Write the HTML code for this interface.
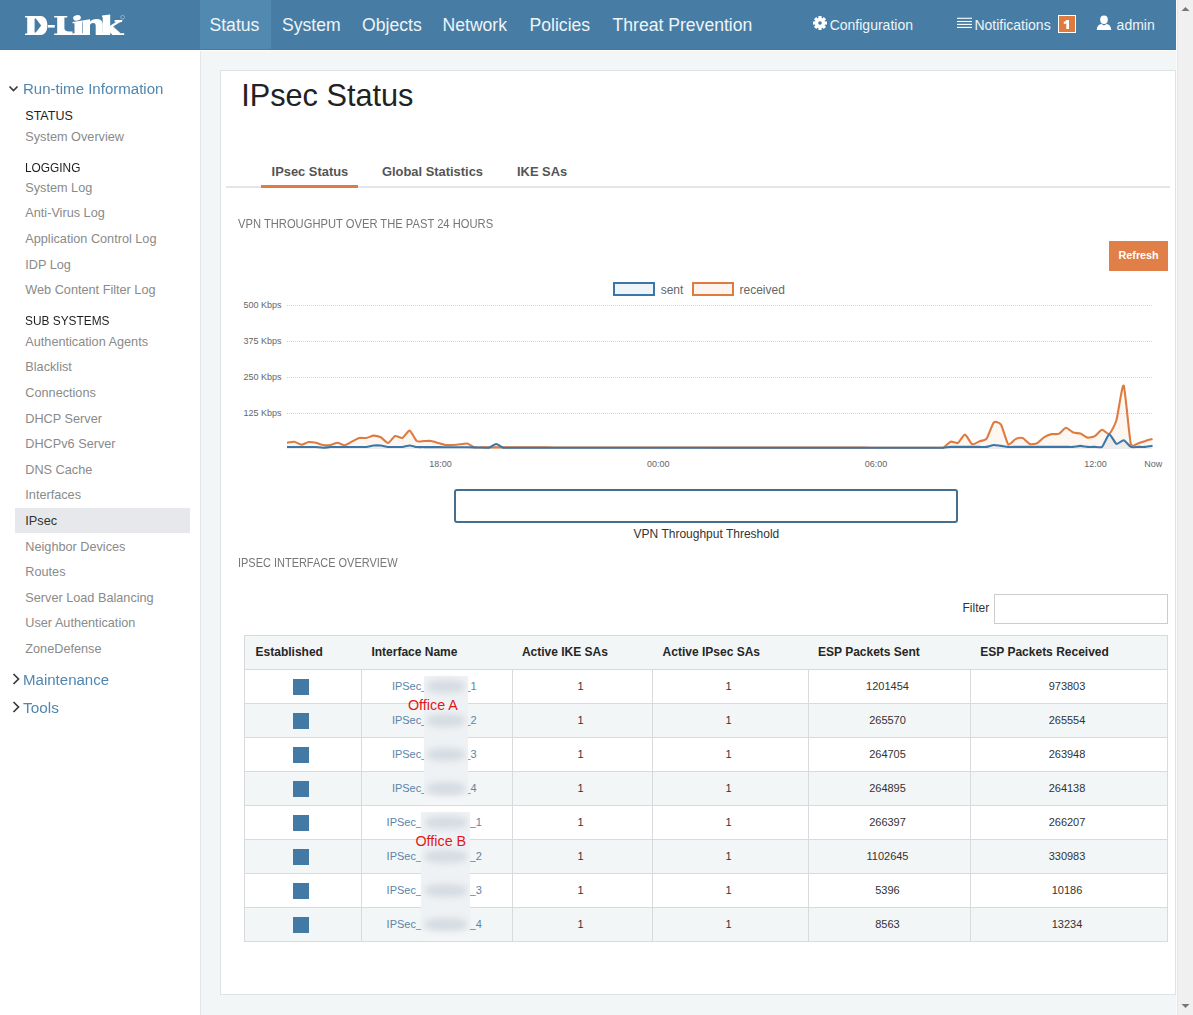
<!DOCTYPE html><html><head><meta charset="utf-8"><style>
html,body{margin:0;padding:0;width:1193px;height:1015px;overflow:hidden;background:#f3f6f7;font-family:"Liberation Sans",sans-serif;}
.t{position:absolute;white-space:nowrap;line-height:1;}
.abs{position:absolute;}
</style></head><body>
<div class="abs" style="left:0;top:0;width:1176px;height:50px;background:#477da4;"></div>
<div class="abs" style="left:0;top:49px;width:1176px;height:1px;background:#447aa1;"></div>
<div class="abs" style="left:0;top:50px;width:1176px;height:1px;background:#ffffff;"></div>
<div class="abs" style="left:200px;top:0;width:71px;height:49px;background:#5189b0;"></div>
<svg class="abs" style="left:0;top:0" width="140" height="50"><g fill="#fff">
<path fill-rule="evenodd" d="M25 16 L40.5 16 C45.2 16 47.4 20.3 47.4 25.5 C47.4 30.7 45.2 35 40.5 35 L25 35 L25 33.4 L27.2 33.4 L27.2 17.6 L25 17.6 Z M34.6 18.4 L35.8 18.4 L41.2 25.5 L35.8 32.5 L34.6 32.5 Z"/>
<rect x="48" y="25" width="6.8" height="2.6"/>
<path d="M54.2 16 L67.2 16 L67.2 17.6 L64.4 17.6 L64.4 28.5 Q64.8 31.4 69 31.4 L72.5 31.4 L72.5 35 L54.2 35 L54.2 33.4 L57.2 33.4 L57.2 17.6 L54.2 17.6 Z"/>
<ellipse cx="77" cy="17.9" rx="3.9" ry="2.7" transform="rotate(-12 77 17.9)"/>
<path d="M72.5 22 L82 20.4 L82 33.2 L83.5 33.2 L83.5 35 L72.3 35 L72.3 33.2 L74.5 33.2 L74.5 23.2 L72.5 23.2 Z"/>
<path d="M82.2 20.6 L90 19.2 L90 21.6 Q92 19 96.5 19 Q102.8 19 102.8 24.5 L102.8 33.2 L104.2 33.2 L104.2 35 L95.7 35 L95.7 25.2 Q95.7 22.9 93.2 22.9 Q90 22.9 90 25.5 L90 33.2 L90 35 L82.2 35 L82.2 33.2 L82.6 33.2 L82.6 22.2 L82.2 22.2 Z"/>
<path d="M102 15.6 L110.2 14.6 L110.2 25.8 L116.3 21.8 L114.6 21.8 L114.6 20 L122.2 20 L122.2 21.8 L119.5 22.6 L113.2 26.6 L120.5 33.2 L124.2 33.2 L124.2 35 L112.3 35 L110.2 32.5 L110.2 35 L102.7 35 L102.7 17.3 L102 17.3 Z"/>
<circle cx="122.6" cy="17.3" r="1.9" fill="none" stroke="#b9cfe0" stroke-width="0.6"/>
</g></svg>
<div class="t" style="left:209.5px;top:17.40px;font-size:17.6px;color:#eef4f8;font-weight:normal;">Status</div>
<div class="t" style="left:282.0px;top:17.40px;font-size:17.6px;color:#eef4f8;font-weight:normal;">System</div>
<div class="t" style="left:362.1px;top:17.40px;font-size:17.6px;color:#eef4f8;font-weight:normal;">Objects</div>
<div class="t" style="left:442.5px;top:17.40px;font-size:17.6px;color:#eef4f8;font-weight:normal;">Network</div>
<div class="t" style="left:529.5px;top:17.40px;font-size:17.6px;color:#eef4f8;font-weight:normal;">Policies</div>
<div class="t" style="left:612.5px;top:17.40px;font-size:17.6px;color:#eef4f8;font-weight:normal;">Threat Prevention</div>
<svg class="abs" style="left:812px;top:15px" width="16" height="16" viewBox="0 0 16 16"><g fill="#fff" transform="translate(8,8)"><circle r="5.2"/><rect x="-1.6" y="-7" width="3.2" height="3" transform="rotate(0)"/><rect x="-1.6" y="-7" width="3.2" height="3" transform="rotate(45)"/><rect x="-1.6" y="-7" width="3.2" height="3" transform="rotate(90)"/><rect x="-1.6" y="-7" width="3.2" height="3" transform="rotate(135)"/><rect x="-1.6" y="-7" width="3.2" height="3" transform="rotate(180)"/><rect x="-1.6" y="-7" width="3.2" height="3" transform="rotate(225)"/><rect x="-1.6" y="-7" width="3.2" height="3" transform="rotate(270)"/><rect x="-1.6" y="-7" width="3.2" height="3" transform="rotate(315)"/><circle r="1.8" fill="#477da4"/></g></svg>
<div class="t" style="left:829.7px;top:17.75px;font-size:14px;color:#eef4f8;font-weight:normal;">Configuration</div>
<svg class="abs" style="left:957px;top:17px" width="15" height="12"><g stroke="#fff" stroke-width="1.1"><line x1="0" y1="1.3" x2="15" y2="1.3"/><line x1="0" y1="4.5" x2="15" y2="4.5"/><line x1="0" y1="7.4" x2="15" y2="7.4"/><line x1="0" y1="10.4" x2="15" y2="10.4"/></g></svg>
<div class="t" style="left:974.4px;top:18.35px;font-size:14px;color:#eef4f8;font-weight:normal;">Notifications</div>
<div class="abs" style="left:1058px;top:15px;width:16px;height:16px;border:1px solid #fff;background:#e07b3f;"></div>
<svg class="abs" style="left:1058px;top:15px" width="18" height="18"><path d="M8.3 5 L11 5 L11 14 L8.3 14 L8.3 8.2 Q7.2 8.9 5.8 9.2 L5.8 7 Q7.6 6.4 8.3 5 Z" fill="#fff"/></svg>
<svg class="abs" style="left:1096px;top:15px" width="16" height="16" viewBox="0 0 16 16"><g fill="#fff"><ellipse cx="8" cy="4.8" rx="3.8" ry="4.2"/><path d="M0.8 15 C0.8 11 3 9.5 5.5 9 L8 10.5 L10.5 9 C13 9.5 15.2 11 15.2 15 Z"/></g></svg>
<div class="t" style="left:1116.6px;top:18.35px;font-size:14px;color:#eef4f8;font-weight:normal;">admin</div>
<div class="abs" style="left:1176px;top:0;width:1px;height:1015px;background:#fbfbfb;"></div>
<div class="abs" style="left:1177px;top:0;width:16px;height:1015px;background:#f0f0f0;border-left:1px solid #e6e6e6;box-sizing:border-box;"></div>
<svg class="abs" style="left:1177px;top:0" width="16" height="1015"><path d="M4.5 11 L8.5 7 L12.5 11 Z" fill="#777"/><path d="M4.5 1004 L8.5 1008 L12.5 1004 Z" fill="#777"/></svg>
<div class="abs" style="left:0;top:51px;width:200px;height:964px;background:#fff;"></div>
<div class="abs" style="left:200px;top:51px;width:1px;height:964px;background:#e3e6e8;"></div>
<svg class="abs" style="left:8px;top:84px" width="12" height="10"><path d="M1.5 2.5 L5.5 6.5 L9.5 2.5" stroke="#3a3a3a" stroke-width="1.7" fill="none"/></svg>
<div class="t" style="left:23.4px;top:81.08px;font-size:15.5px;color:#5086af;font-weight:normal;transform:scaleX(0.97);transform-origin:0 0;">Run-time Information</div>
<div class="t" style="left:25.3px;top:110.22px;font-size:12.5px;color:#1e1e1e;font-weight:normal;">STATUS</div>
<div class="t" style="left:25.3px;top:131.15px;font-size:12.7px;color:#8a8a8a;font-weight:normal;">System Overview</div>
<div class="t" style="left:25.3px;top:162.32px;font-size:12.5px;color:#1e1e1e;font-weight:normal;transform:scaleX(0.95);transform-origin:0 0;">LOGGING</div>
<div class="t" style="left:25.3px;top:181.85px;font-size:12.7px;color:#8a8a8a;font-weight:normal;">System Log</div>
<div class="t" style="left:25.3px;top:207.45px;font-size:12.7px;color:#8a8a8a;font-weight:normal;">Anti-Virus Log</div>
<div class="t" style="left:25.3px;top:233.05px;font-size:12.7px;color:#8a8a8a;font-weight:normal;">Application Control Log</div>
<div class="t" style="left:25.3px;top:258.65px;font-size:12.7px;color:#8a8a8a;font-weight:normal;">IDP Log</div>
<div class="t" style="left:25.3px;top:284.25px;font-size:12.7px;color:#8a8a8a;font-weight:normal;">Web Content Filter Log</div>
<div class="t" style="left:25.3px;top:315.02px;font-size:12.5px;color:#1e1e1e;font-weight:normal;transform:scaleX(0.95);transform-origin:0 0;">SUB SYSTEMS</div>
<div class="abs" style="left:15px;top:508px;width:175px;height:25px;background:#e6e8eb;"></div>
<div class="t" style="left:25.3px;top:335.75px;font-size:12.7px;color:#8a8a8a;font-weight:normal;">Authentication Agents</div>
<div class="t" style="left:25.3px;top:361.35px;font-size:12.7px;color:#8a8a8a;font-weight:normal;">Blacklist</div>
<div class="t" style="left:25.3px;top:386.95px;font-size:12.7px;color:#8a8a8a;font-weight:normal;">Connections</div>
<div class="t" style="left:25.3px;top:412.55px;font-size:12.7px;color:#8a8a8a;font-weight:normal;">DHCP Server</div>
<div class="t" style="left:25.3px;top:438.15px;font-size:12.7px;color:#8a8a8a;font-weight:normal;">DHCPv6 Server</div>
<div class="t" style="left:25.3px;top:463.75px;font-size:12.7px;color:#8a8a8a;font-weight:normal;">DNS Cache</div>
<div class="t" style="left:25.3px;top:489.35px;font-size:12.7px;color:#8a8a8a;font-weight:normal;">Interfaces</div>
<div class="t" style="left:25.3px;top:514.95px;font-size:12.7px;color:#333;font-weight:normal;">IPsec</div>
<div class="t" style="left:25.3px;top:540.55px;font-size:12.7px;color:#8a8a8a;font-weight:normal;">Neighbor Devices</div>
<div class="t" style="left:25.3px;top:566.15px;font-size:12.7px;color:#8a8a8a;font-weight:normal;">Routes</div>
<div class="t" style="left:25.3px;top:591.75px;font-size:12.7px;color:#8a8a8a;font-weight:normal;">Server Load Balancing</div>
<div class="t" style="left:25.3px;top:617.35px;font-size:12.7px;color:#8a8a8a;font-weight:normal;">User Authentication</div>
<div class="t" style="left:25.3px;top:642.95px;font-size:12.7px;color:#8a8a8a;font-weight:normal;">ZoneDefense</div>
<svg class="abs" style="left:10px;top:672px" width="12" height="14"><path d="M3.5 2 L8.5 7 L3.5 12" stroke="#3a3a3a" stroke-width="1.7" fill="none"/></svg>
<div class="t" style="left:23.4px;top:671.78px;font-size:15.5px;color:#5086af;font-weight:normal;transform:scaleX(0.97);transform-origin:0 0;">Maintenance</div>
<svg class="abs" style="left:10px;top:700px" width="12" height="14"><path d="M3.5 2 L8.5 7 L3.5 12" stroke="#3a3a3a" stroke-width="1.7" fill="none"/></svg>
<div class="t" style="left:23.4px;top:699.58px;font-size:15.5px;color:#5086af;font-weight:normal;transform:scaleX(0.99);transform-origin:0 0;">Tools</div>
<div class="abs" style="left:220px;top:70px;width:956px;height:925px;background:#fff;border:1px solid #dfe3e6;box-sizing:border-box;"></div>
<div class="t" style="left:241.2px;top:81.41px;font-size:30.7px;color:#222;font-weight:normal;">IPsec Status</div>
<div class="abs" style="left:226px;top:186px;width:944px;height:2px;background:#e4e5ea;"></div>
<div class="abs" style="left:261px;top:185px;width:97px;height:3px;background:#e07c43;"></div>
<div class="t" style="left:271.6px;top:165.78px;font-size:12.9px;color:#555;font-weight:bold;">IPsec Status</div>
<div class="t" style="left:382px;top:165.78px;font-size:12.9px;color:#555;font-weight:bold;">Global Statistics</div>
<div class="t" style="left:517px;top:165.78px;font-size:12.9px;color:#555;font-weight:bold;">IKE SAs</div>
<div class="t" style="left:238.3px;top:218.07px;font-size:12.2px;color:#777;font-weight:normal;transform:scaleX(0.918);transform-origin:0 0;">VPN THROUGHPUT OVER THE PAST 24 HOURS</div>
<div class="abs" style="left:1109px;top:241px;width:59px;height:30px;background:#e07f47;"></div>
<div class="t" style="left:1118.5px;top:250.36px;font-size:10.8px;color:#fff;font-weight:bold;">Refresh</div>
<div class="abs" style="left:613px;top:282px;width:42px;height:14px;border:2px solid #3a76a7;background:#eef4f8;box-sizing:border-box;"></div>
<div class="t" style="left:660.7px;top:283.64px;font-size:12px;color:#666;font-weight:normal;">sent</div>
<div class="abs" style="left:692px;top:282px;width:42px;height:14px;border:2px solid #e07b3f;background:#fdf4ef;box-sizing:border-box;"></div>
<div class="t" style="left:739.5px;top:283.64px;font-size:12px;color:#666;font-weight:normal;">received</div>
<div class="t" style="left:0px;top:300.88px;font-size:9px;color:#666;font-weight:normal;width:281.5px;text-align:right;">500 Kbps</div>
<div class="t" style="left:0px;top:336.78px;font-size:9px;color:#666;font-weight:normal;width:281.5px;text-align:right;">375 Kbps</div>
<div class="t" style="left:0px;top:372.68px;font-size:9px;color:#666;font-weight:normal;width:281.5px;text-align:right;">250 Kbps</div>
<div class="t" style="left:0px;top:408.68px;font-size:9px;color:#666;font-weight:normal;width:281.5px;text-align:right;">125 Kbps</div>
<div class="t" style="left:429.3px;top:460.08px;font-size:9px;color:#666;font-weight:normal;">18:00</div>
<div class="t" style="left:647px;top:460.08px;font-size:9px;color:#666;font-weight:normal;">00:00</div>
<div class="t" style="left:864.8px;top:460.08px;font-size:9px;color:#666;font-weight:normal;">06:00</div>
<div class="t" style="left:1084.3px;top:460.08px;font-size:9px;color:#666;font-weight:normal;">12:00</div>
<div class="t" style="left:1144.2px;top:460.08px;font-size:9px;color:#666;font-weight:normal;">Now</div>
<svg class="abs" style="left:0;top:0" width="1193" height="1015">
<g stroke="#d4d4d4" stroke-width="1" stroke-dasharray="1 1">
<line x1="287" y1="305.5" x2="1152" y2="305.5"/><line x1="287" y1="341.5" x2="1152" y2="341.5"/><line x1="287" y1="377.5" x2="1152" y2="377.5"/><line x1="287" y1="413.5" x2="1152" y2="413.5"/>
</g>
<path d="M287.0 442.7 C287.7 442.6 292.8 441.5 294.2 441.7 C295.7 441.9 300.0 444.7 301.4 444.7 C302.9 444.7 307.2 442.2 308.6 442.0 C310.1 441.8 314.4 442.4 315.9 442.7 C317.3 443.0 321.6 444.8 323.1 445.0 C324.5 445.2 328.8 445.2 330.3 445.0 C331.7 444.8 336.0 442.7 337.5 442.7 C338.9 442.7 343.3 445.3 344.7 445.2 C346.1 445.1 350.5 442.3 351.9 441.6 C353.4 440.9 357.7 438.4 359.1 438.0 C360.6 437.6 364.9 438.2 366.3 438.0 C367.8 437.8 372.1 435.7 373.6 435.6 C375.0 435.5 379.3 436.6 380.8 437.3 C382.2 438.0 386.5 443.1 388.0 443.0 C389.4 442.9 393.7 436.5 395.2 436.0 C396.6 435.5 401.0 438.5 402.4 438.0 C403.8 437.5 408.2 430.3 409.6 430.6 C411.1 430.9 415.4 440.0 416.8 441.0 C418.3 442.0 422.6 441.0 424.0 441.0 C425.5 441.0 429.8 440.8 431.2 441.0 C432.7 441.2 437.0 442.6 438.5 443.0 C439.9 443.4 444.2 444.8 445.7 445.0 C447.1 445.2 451.4 445.1 452.9 445.0 C454.3 444.9 458.7 444.4 460.1 444.2 C461.5 444.1 465.9 443.2 467.3 443.5 C468.8 443.8 473.1 447.0 474.5 447.4 C476.0 447.8 480.3 447.4 481.7 447.4 C483.2 447.4 487.5 447.4 489.0 447.4 C490.4 447.4 494.7 447.4 496.2 447.4 C497.6 447.4 501.9 447.4 503.4 447.4 C504.8 447.4 509.1 447.4 510.6 447.4 C512.0 447.4 516.4 447.4 517.8 447.4 C519.2 447.4 523.6 447.4 525.0 447.4 C526.5 447.4 530.8 447.4 532.2 447.4 C533.7 447.4 538.0 447.4 539.4 447.4 C540.9 447.4 545.2 447.4 546.7 447.4 C548.1 447.4 552.4 447.4 553.9 447.5 C555.3 447.5 559.6 447.5 561.1 447.5 C562.5 447.5 566.8 447.5 568.3 447.5 C569.7 447.5 574.1 447.5 575.5 447.5 C576.9 447.5 581.3 447.5 582.7 447.5 C584.2 447.5 588.5 447.5 589.9 447.5 C591.4 447.5 595.7 447.5 597.1 447.5 C598.6 447.5 602.9 447.5 604.4 447.5 C605.8 447.5 610.1 447.5 611.6 447.5 C613.0 447.5 617.3 447.5 618.8 447.5 C620.2 447.5 624.5 447.5 626.0 447.5 C627.4 447.5 631.8 447.5 633.2 447.5 C634.6 447.5 639.0 447.5 640.4 447.5 C641.9 447.5 646.2 447.5 647.6 447.5 C649.1 447.5 653.4 447.5 654.8 447.5 C656.3 447.5 660.6 447.5 662.0 447.5 C663.5 447.5 667.8 447.5 669.3 447.5 C670.7 447.5 675.0 447.5 676.5 447.5 C677.9 447.5 682.2 447.5 683.7 447.5 C685.1 447.5 689.5 447.5 690.9 447.5 C692.3 447.5 696.7 447.5 698.1 447.5 C699.6 447.5 703.9 447.5 705.3 447.5 C706.8 447.5 711.1 447.6 712.5 447.6 C714.0 447.6 718.3 447.6 719.8 447.6 C721.2 447.6 725.5 447.6 727.0 447.6 C728.4 447.6 732.7 447.6 734.2 447.6 C735.6 447.6 739.9 447.6 741.4 447.6 C742.8 447.6 747.2 447.6 748.6 447.6 C750.0 447.6 754.4 447.6 755.8 447.6 C757.3 447.6 761.6 447.6 763.0 447.6 C764.5 447.6 768.8 447.6 770.2 447.6 C771.7 447.6 776.0 447.6 777.5 447.6 C778.9 447.6 783.2 447.6 784.7 447.6 C786.1 447.6 790.4 447.6 791.9 447.6 C793.3 447.6 797.6 447.6 799.1 447.6 C800.5 447.6 804.9 447.6 806.3 447.6 C807.7 447.6 812.1 447.6 813.5 447.6 C815.0 447.6 819.3 447.6 820.7 447.6 C822.2 447.6 826.5 447.6 827.9 447.6 C829.4 447.6 833.7 447.6 835.1 447.6 C836.6 447.6 840.9 447.6 842.4 447.6 C843.8 447.6 848.1 447.6 849.6 447.6 C851.0 447.6 855.3 447.6 856.8 447.6 C858.2 447.6 862.6 447.6 864.0 447.6 C865.4 447.7 869.8 447.7 871.2 447.7 C872.7 447.7 877.0 447.7 878.4 447.7 C879.9 447.7 884.2 447.7 885.6 447.7 C887.1 447.7 891.4 447.7 892.9 447.7 C894.3 447.7 898.6 447.7 900.1 447.7 C901.5 447.7 905.8 447.7 907.3 447.7 C908.7 447.7 913.0 447.7 914.5 447.7 C915.9 447.7 920.3 447.7 921.7 447.7 C923.1 447.7 927.5 447.7 928.9 447.7 C930.4 447.7 934.7 447.7 936.1 447.7 C937.6 447.7 941.9 447.8 943.3 447.7 C944.8 447.1 949.1 442.2 950.6 441.7 C952.0 441.2 956.3 443.7 957.8 443.0 C959.2 442.3 963.5 434.5 965.0 434.6 C966.4 434.7 970.7 443.5 972.2 444.2 C973.6 444.9 978.0 442.0 979.4 441.4 C980.8 440.8 985.2 440.5 986.6 438.6 C988.1 436.7 992.4 423.9 993.8 422.5 C995.3 421.1 999.6 422.4 1001.0 424.6 C1002.5 426.8 1006.8 442.8 1008.2 444.2 C1009.7 445.6 1014.0 439.7 1015.5 439.1 C1016.9 438.5 1021.2 437.5 1022.7 438.0 C1024.1 438.5 1028.4 443.5 1029.9 444.0 C1031.3 444.5 1035.7 443.9 1037.1 443.2 C1038.5 442.5 1042.9 438.0 1044.3 437.1 C1045.8 436.2 1050.1 434.4 1051.5 434.1 C1053.0 433.8 1057.3 434.5 1058.7 433.9 C1060.2 433.3 1064.5 427.9 1066.0 427.8 C1067.4 427.7 1071.7 431.9 1073.2 432.5 C1074.6 433.1 1078.9 433.1 1080.4 433.6 C1081.8 434.1 1086.1 437.3 1087.6 437.6 C1089.0 437.9 1093.4 437.0 1094.8 436.2 C1096.2 435.4 1100.6 430.0 1102.0 429.8 C1103.5 429.6 1107.8 434.8 1109.2 433.9 C1110.7 432.9 1115.0 425.1 1116.4 420.3 C1117.9 415.5 1122.2 383.2 1123.7 385.6 C1125.1 388.0 1129.4 438.6 1130.9 444.4 C1132.3 447.8 1136.6 443.8 1138.1 443.4 C1139.5 443.0 1143.8 441.3 1145.3 440.9 C1146.7 440.4 1151.8 439.1 1152.5 438.9 L1152.5 449 L287.0 449 Z" fill="rgba(224,123,63,0.07)"/>
<path d="M287.0 447.0 C287.7 447.0 292.8 447.0 294.2 447.0 C295.7 447.0 300.0 447.0 301.4 447.0 C302.9 447.0 307.2 447.0 308.6 447.0 C310.1 447.0 314.4 446.9 315.9 447.0 C317.3 447.1 321.6 447.8 323.1 447.8 C324.5 447.8 328.8 447.1 330.3 447.0 C331.7 446.9 336.0 447.0 337.5 447.0 C338.9 447.0 343.3 447.0 344.7 447.0 C346.1 447.0 350.5 447.0 351.9 447.0 C353.4 447.0 357.7 447.0 359.1 447.0 C360.6 447.0 364.9 447.1 366.3 447.0 C367.8 446.9 372.1 445.6 373.6 445.5 C375.0 445.4 379.3 445.4 380.8 445.5 C382.2 445.6 386.5 446.9 388.0 447.0 C389.4 447.1 393.7 447.0 395.2 447.0 C396.6 447.0 401.0 447.1 402.4 447.0 C403.8 446.9 408.2 445.5 409.6 445.5 C411.1 445.5 415.4 446.8 416.8 447.0 C418.3 447.2 422.6 447.0 424.0 447.1 C425.5 447.1 429.8 447.1 431.2 447.1 C432.7 447.1 437.0 447.1 438.5 447.1 C439.9 447.2 444.2 447.2 445.7 447.2 C447.1 447.2 451.4 447.2 452.9 447.2 C454.3 447.3 458.7 447.3 460.1 447.3 C461.5 447.3 465.9 447.3 467.3 447.3 C468.8 447.4 473.1 447.4 474.5 447.4 C476.0 447.4 480.3 447.5 481.7 447.5 C483.2 447.6 487.5 447.8 489.0 447.7 C490.4 447.3 494.7 444.0 496.2 444.0 C497.6 444.0 501.9 447.3 503.4 447.7 C504.8 447.8 509.1 447.7 510.6 447.7 C512.0 447.7 516.4 447.7 517.8 447.7 C519.2 447.7 523.6 447.7 525.0 447.7 C526.5 447.7 530.8 447.7 532.2 447.7 C533.7 447.7 538.0 447.7 539.4 447.7 C540.9 447.7 545.2 447.7 546.7 447.7 C548.1 447.7 552.4 447.7 553.9 447.7 C555.3 447.7 559.6 447.7 561.1 447.7 C562.5 447.7 566.8 447.7 568.3 447.7 C569.7 447.7 574.1 447.7 575.5 447.7 C576.9 447.7 581.3 447.7 582.7 447.7 C584.2 447.7 588.5 447.7 589.9 447.7 C591.4 447.7 595.7 447.7 597.1 447.7 C598.6 447.7 602.9 447.7 604.4 447.7 C605.8 447.7 610.1 447.7 611.6 447.7 C613.0 447.7 617.3 447.7 618.8 447.7 C620.2 447.7 624.5 447.7 626.0 447.7 C627.4 447.7 631.8 447.7 633.2 447.7 C634.6 447.7 639.0 447.7 640.4 447.7 C641.9 447.7 646.2 447.7 647.6 447.7 C649.1 447.7 653.4 447.7 654.8 447.7 C656.3 447.7 660.6 447.7 662.0 447.7 C663.5 447.7 667.8 447.7 669.3 447.7 C670.7 447.7 675.0 447.7 676.5 447.7 C677.9 447.7 682.2 447.7 683.7 447.7 C685.1 447.7 689.5 447.7 690.9 447.7 C692.3 447.7 696.7 447.7 698.1 447.7 C699.6 447.7 703.9 447.7 705.3 447.7 C706.8 447.7 711.1 447.7 712.5 447.7 C714.0 447.7 718.3 447.7 719.8 447.7 C721.2 447.7 725.5 447.7 727.0 447.7 C728.4 447.7 732.7 447.7 734.2 447.7 C735.6 447.7 739.9 447.7 741.4 447.7 C742.8 447.7 747.2 447.7 748.6 447.7 C750.0 447.7 754.4 447.7 755.8 447.7 C757.3 447.7 761.6 447.7 763.0 447.7 C764.5 447.7 768.8 447.7 770.2 447.7 C771.7 447.7 776.0 447.7 777.5 447.7 C778.9 447.7 783.2 447.7 784.7 447.7 C786.1 447.7 790.4 447.7 791.9 447.7 C793.3 447.7 797.6 447.7 799.1 447.7 C800.5 447.7 804.9 447.7 806.3 447.7 C807.7 447.7 812.1 447.7 813.5 447.7 C815.0 447.7 819.3 447.7 820.7 447.7 C822.2 447.7 826.5 447.7 827.9 447.7 C829.4 447.7 833.7 447.7 835.1 447.7 C836.6 447.7 840.9 447.7 842.4 447.7 C843.8 447.7 848.1 447.7 849.6 447.7 C851.0 447.7 855.3 447.7 856.8 447.7 C858.2 447.7 862.6 447.7 864.0 447.7 C865.4 447.7 869.8 447.7 871.2 447.7 C872.7 447.7 877.0 447.7 878.4 447.7 C879.9 447.7 884.2 447.7 885.6 447.7 C887.1 447.7 891.4 447.7 892.9 447.7 C894.3 447.7 898.6 447.7 900.1 447.7 C901.5 447.7 905.8 447.7 907.3 447.7 C908.7 447.7 913.0 447.7 914.5 447.7 C915.9 447.7 920.3 447.7 921.7 447.7 C923.1 447.7 927.5 447.7 928.9 447.7 C930.4 447.7 934.7 447.7 936.1 447.7 C937.6 447.7 941.9 447.8 943.3 447.7 C944.8 447.6 949.1 447.0 950.6 446.9 C952.0 446.8 956.3 446.9 957.8 446.9 C959.2 446.9 963.5 446.9 965.0 446.9 C966.4 446.9 970.7 446.9 972.2 446.9 C973.6 446.9 978.0 446.9 979.4 446.9 C980.8 446.9 985.2 447.1 986.6 446.9 C988.1 446.7 992.4 445.1 993.8 445.0 C995.3 444.9 999.6 445.8 1001.0 445.9 C1002.5 446.1 1006.8 446.8 1008.2 446.9 C1009.7 447.0 1014.0 446.9 1015.5 446.9 C1016.9 446.9 1021.2 446.9 1022.7 446.9 C1024.1 446.9 1028.4 446.9 1029.9 446.9 C1031.3 446.9 1035.7 446.9 1037.1 446.9 C1038.5 446.9 1042.9 446.9 1044.3 446.9 C1045.8 446.9 1050.1 446.9 1051.5 446.9 C1053.0 446.9 1057.3 446.9 1058.7 446.9 C1060.2 446.9 1064.5 446.9 1066.0 446.9 C1067.4 446.9 1071.7 447.0 1073.2 446.9 C1074.6 446.8 1078.9 445.9 1080.4 445.9 C1081.8 445.9 1086.1 446.8 1087.6 446.9 C1089.0 447.0 1093.4 446.9 1094.8 446.9 C1096.2 446.9 1100.6 447.8 1102.0 446.9 C1103.5 445.6 1107.8 434.7 1109.2 434.4 C1110.7 434.1 1115.0 443.3 1116.4 443.9 C1117.9 444.5 1122.2 439.9 1123.7 440.2 C1125.1 440.5 1129.4 446.2 1130.9 446.9 C1132.3 447.6 1136.6 446.9 1138.1 446.9 C1139.5 446.9 1143.8 447.0 1145.3 446.9 C1146.7 446.8 1151.8 446.0 1152.5 445.9 L1152.5 449 L287.0 449 Z" fill="rgba(58,118,168,0.08)"/>
<path d="M287.0 442.7 C287.7 442.6 292.8 441.5 294.2 441.7 C295.7 441.9 300.0 444.7 301.4 444.7 C302.9 444.7 307.2 442.2 308.6 442.0 C310.1 441.8 314.4 442.4 315.9 442.7 C317.3 443.0 321.6 444.8 323.1 445.0 C324.5 445.2 328.8 445.2 330.3 445.0 C331.7 444.8 336.0 442.7 337.5 442.7 C338.9 442.7 343.3 445.3 344.7 445.2 C346.1 445.1 350.5 442.3 351.9 441.6 C353.4 440.9 357.7 438.4 359.1 438.0 C360.6 437.6 364.9 438.2 366.3 438.0 C367.8 437.8 372.1 435.7 373.6 435.6 C375.0 435.5 379.3 436.6 380.8 437.3 C382.2 438.0 386.5 443.1 388.0 443.0 C389.4 442.9 393.7 436.5 395.2 436.0 C396.6 435.5 401.0 438.5 402.4 438.0 C403.8 437.5 408.2 430.3 409.6 430.6 C411.1 430.9 415.4 440.0 416.8 441.0 C418.3 442.0 422.6 441.0 424.0 441.0 C425.5 441.0 429.8 440.8 431.2 441.0 C432.7 441.2 437.0 442.6 438.5 443.0 C439.9 443.4 444.2 444.8 445.7 445.0 C447.1 445.2 451.4 445.1 452.9 445.0 C454.3 444.9 458.7 444.4 460.1 444.2 C461.5 444.1 465.9 443.2 467.3 443.5 C468.8 443.8 473.1 447.0 474.5 447.4 C476.0 447.8 480.3 447.4 481.7 447.4 C483.2 447.4 487.5 447.4 489.0 447.4 C490.4 447.4 494.7 447.4 496.2 447.4 C497.6 447.4 501.9 447.4 503.4 447.4 C504.8 447.4 509.1 447.4 510.6 447.4 C512.0 447.4 516.4 447.4 517.8 447.4 C519.2 447.4 523.6 447.4 525.0 447.4 C526.5 447.4 530.8 447.4 532.2 447.4 C533.7 447.4 538.0 447.4 539.4 447.4 C540.9 447.4 545.2 447.4 546.7 447.4 C548.1 447.4 552.4 447.4 553.9 447.5 C555.3 447.5 559.6 447.5 561.1 447.5 C562.5 447.5 566.8 447.5 568.3 447.5 C569.7 447.5 574.1 447.5 575.5 447.5 C576.9 447.5 581.3 447.5 582.7 447.5 C584.2 447.5 588.5 447.5 589.9 447.5 C591.4 447.5 595.7 447.5 597.1 447.5 C598.6 447.5 602.9 447.5 604.4 447.5 C605.8 447.5 610.1 447.5 611.6 447.5 C613.0 447.5 617.3 447.5 618.8 447.5 C620.2 447.5 624.5 447.5 626.0 447.5 C627.4 447.5 631.8 447.5 633.2 447.5 C634.6 447.5 639.0 447.5 640.4 447.5 C641.9 447.5 646.2 447.5 647.6 447.5 C649.1 447.5 653.4 447.5 654.8 447.5 C656.3 447.5 660.6 447.5 662.0 447.5 C663.5 447.5 667.8 447.5 669.3 447.5 C670.7 447.5 675.0 447.5 676.5 447.5 C677.9 447.5 682.2 447.5 683.7 447.5 C685.1 447.5 689.5 447.5 690.9 447.5 C692.3 447.5 696.7 447.5 698.1 447.5 C699.6 447.5 703.9 447.5 705.3 447.5 C706.8 447.5 711.1 447.6 712.5 447.6 C714.0 447.6 718.3 447.6 719.8 447.6 C721.2 447.6 725.5 447.6 727.0 447.6 C728.4 447.6 732.7 447.6 734.2 447.6 C735.6 447.6 739.9 447.6 741.4 447.6 C742.8 447.6 747.2 447.6 748.6 447.6 C750.0 447.6 754.4 447.6 755.8 447.6 C757.3 447.6 761.6 447.6 763.0 447.6 C764.5 447.6 768.8 447.6 770.2 447.6 C771.7 447.6 776.0 447.6 777.5 447.6 C778.9 447.6 783.2 447.6 784.7 447.6 C786.1 447.6 790.4 447.6 791.9 447.6 C793.3 447.6 797.6 447.6 799.1 447.6 C800.5 447.6 804.9 447.6 806.3 447.6 C807.7 447.6 812.1 447.6 813.5 447.6 C815.0 447.6 819.3 447.6 820.7 447.6 C822.2 447.6 826.5 447.6 827.9 447.6 C829.4 447.6 833.7 447.6 835.1 447.6 C836.6 447.6 840.9 447.6 842.4 447.6 C843.8 447.6 848.1 447.6 849.6 447.6 C851.0 447.6 855.3 447.6 856.8 447.6 C858.2 447.6 862.6 447.6 864.0 447.6 C865.4 447.7 869.8 447.7 871.2 447.7 C872.7 447.7 877.0 447.7 878.4 447.7 C879.9 447.7 884.2 447.7 885.6 447.7 C887.1 447.7 891.4 447.7 892.9 447.7 C894.3 447.7 898.6 447.7 900.1 447.7 C901.5 447.7 905.8 447.7 907.3 447.7 C908.7 447.7 913.0 447.7 914.5 447.7 C915.9 447.7 920.3 447.7 921.7 447.7 C923.1 447.7 927.5 447.7 928.9 447.7 C930.4 447.7 934.7 447.7 936.1 447.7 C937.6 447.7 941.9 447.8 943.3 447.7 C944.8 447.1 949.1 442.2 950.6 441.7 C952.0 441.2 956.3 443.7 957.8 443.0 C959.2 442.3 963.5 434.5 965.0 434.6 C966.4 434.7 970.7 443.5 972.2 444.2 C973.6 444.9 978.0 442.0 979.4 441.4 C980.8 440.8 985.2 440.5 986.6 438.6 C988.1 436.7 992.4 423.9 993.8 422.5 C995.3 421.1 999.6 422.4 1001.0 424.6 C1002.5 426.8 1006.8 442.8 1008.2 444.2 C1009.7 445.6 1014.0 439.7 1015.5 439.1 C1016.9 438.5 1021.2 437.5 1022.7 438.0 C1024.1 438.5 1028.4 443.5 1029.9 444.0 C1031.3 444.5 1035.7 443.9 1037.1 443.2 C1038.5 442.5 1042.9 438.0 1044.3 437.1 C1045.8 436.2 1050.1 434.4 1051.5 434.1 C1053.0 433.8 1057.3 434.5 1058.7 433.9 C1060.2 433.3 1064.5 427.9 1066.0 427.8 C1067.4 427.7 1071.7 431.9 1073.2 432.5 C1074.6 433.1 1078.9 433.1 1080.4 433.6 C1081.8 434.1 1086.1 437.3 1087.6 437.6 C1089.0 437.9 1093.4 437.0 1094.8 436.2 C1096.2 435.4 1100.6 430.0 1102.0 429.8 C1103.5 429.6 1107.8 434.8 1109.2 433.9 C1110.7 432.9 1115.0 425.1 1116.4 420.3 C1117.9 415.5 1122.2 383.2 1123.7 385.6 C1125.1 388.0 1129.4 438.6 1130.9 444.4 C1132.3 447.8 1136.6 443.8 1138.1 443.4 C1139.5 443.0 1143.8 441.3 1145.3 440.9 C1146.7 440.4 1151.8 439.1 1152.5 438.9" fill="none" stroke="#e07b3f" stroke-width="2.1" stroke-linejoin="round"/>
<path d="M287.0 447.0 C287.7 447.0 292.8 447.0 294.2 447.0 C295.7 447.0 300.0 447.0 301.4 447.0 C302.9 447.0 307.2 447.0 308.6 447.0 C310.1 447.0 314.4 446.9 315.9 447.0 C317.3 447.1 321.6 447.8 323.1 447.8 C324.5 447.8 328.8 447.1 330.3 447.0 C331.7 446.9 336.0 447.0 337.5 447.0 C338.9 447.0 343.3 447.0 344.7 447.0 C346.1 447.0 350.5 447.0 351.9 447.0 C353.4 447.0 357.7 447.0 359.1 447.0 C360.6 447.0 364.9 447.1 366.3 447.0 C367.8 446.9 372.1 445.6 373.6 445.5 C375.0 445.4 379.3 445.4 380.8 445.5 C382.2 445.6 386.5 446.9 388.0 447.0 C389.4 447.1 393.7 447.0 395.2 447.0 C396.6 447.0 401.0 447.1 402.4 447.0 C403.8 446.9 408.2 445.5 409.6 445.5 C411.1 445.5 415.4 446.8 416.8 447.0 C418.3 447.2 422.6 447.0 424.0 447.1 C425.5 447.1 429.8 447.1 431.2 447.1 C432.7 447.1 437.0 447.1 438.5 447.1 C439.9 447.2 444.2 447.2 445.7 447.2 C447.1 447.2 451.4 447.2 452.9 447.2 C454.3 447.3 458.7 447.3 460.1 447.3 C461.5 447.3 465.9 447.3 467.3 447.3 C468.8 447.4 473.1 447.4 474.5 447.4 C476.0 447.4 480.3 447.5 481.7 447.5 C483.2 447.6 487.5 447.8 489.0 447.7 C490.4 447.3 494.7 444.0 496.2 444.0 C497.6 444.0 501.9 447.3 503.4 447.7 C504.8 447.8 509.1 447.7 510.6 447.7 C512.0 447.7 516.4 447.7 517.8 447.7 C519.2 447.7 523.6 447.7 525.0 447.7 C526.5 447.7 530.8 447.7 532.2 447.7 C533.7 447.7 538.0 447.7 539.4 447.7 C540.9 447.7 545.2 447.7 546.7 447.7 C548.1 447.7 552.4 447.7 553.9 447.7 C555.3 447.7 559.6 447.7 561.1 447.7 C562.5 447.7 566.8 447.7 568.3 447.7 C569.7 447.7 574.1 447.7 575.5 447.7 C576.9 447.7 581.3 447.7 582.7 447.7 C584.2 447.7 588.5 447.7 589.9 447.7 C591.4 447.7 595.7 447.7 597.1 447.7 C598.6 447.7 602.9 447.7 604.4 447.7 C605.8 447.7 610.1 447.7 611.6 447.7 C613.0 447.7 617.3 447.7 618.8 447.7 C620.2 447.7 624.5 447.7 626.0 447.7 C627.4 447.7 631.8 447.7 633.2 447.7 C634.6 447.7 639.0 447.7 640.4 447.7 C641.9 447.7 646.2 447.7 647.6 447.7 C649.1 447.7 653.4 447.7 654.8 447.7 C656.3 447.7 660.6 447.7 662.0 447.7 C663.5 447.7 667.8 447.7 669.3 447.7 C670.7 447.7 675.0 447.7 676.5 447.7 C677.9 447.7 682.2 447.7 683.7 447.7 C685.1 447.7 689.5 447.7 690.9 447.7 C692.3 447.7 696.7 447.7 698.1 447.7 C699.6 447.7 703.9 447.7 705.3 447.7 C706.8 447.7 711.1 447.7 712.5 447.7 C714.0 447.7 718.3 447.7 719.8 447.7 C721.2 447.7 725.5 447.7 727.0 447.7 C728.4 447.7 732.7 447.7 734.2 447.7 C735.6 447.7 739.9 447.7 741.4 447.7 C742.8 447.7 747.2 447.7 748.6 447.7 C750.0 447.7 754.4 447.7 755.8 447.7 C757.3 447.7 761.6 447.7 763.0 447.7 C764.5 447.7 768.8 447.7 770.2 447.7 C771.7 447.7 776.0 447.7 777.5 447.7 C778.9 447.7 783.2 447.7 784.7 447.7 C786.1 447.7 790.4 447.7 791.9 447.7 C793.3 447.7 797.6 447.7 799.1 447.7 C800.5 447.7 804.9 447.7 806.3 447.7 C807.7 447.7 812.1 447.7 813.5 447.7 C815.0 447.7 819.3 447.7 820.7 447.7 C822.2 447.7 826.5 447.7 827.9 447.7 C829.4 447.7 833.7 447.7 835.1 447.7 C836.6 447.7 840.9 447.7 842.4 447.7 C843.8 447.7 848.1 447.7 849.6 447.7 C851.0 447.7 855.3 447.7 856.8 447.7 C858.2 447.7 862.6 447.7 864.0 447.7 C865.4 447.7 869.8 447.7 871.2 447.7 C872.7 447.7 877.0 447.7 878.4 447.7 C879.9 447.7 884.2 447.7 885.6 447.7 C887.1 447.7 891.4 447.7 892.9 447.7 C894.3 447.7 898.6 447.7 900.1 447.7 C901.5 447.7 905.8 447.7 907.3 447.7 C908.7 447.7 913.0 447.7 914.5 447.7 C915.9 447.7 920.3 447.7 921.7 447.7 C923.1 447.7 927.5 447.7 928.9 447.7 C930.4 447.7 934.7 447.7 936.1 447.7 C937.6 447.7 941.9 447.8 943.3 447.7 C944.8 447.6 949.1 447.0 950.6 446.9 C952.0 446.8 956.3 446.9 957.8 446.9 C959.2 446.9 963.5 446.9 965.0 446.9 C966.4 446.9 970.7 446.9 972.2 446.9 C973.6 446.9 978.0 446.9 979.4 446.9 C980.8 446.9 985.2 447.1 986.6 446.9 C988.1 446.7 992.4 445.1 993.8 445.0 C995.3 444.9 999.6 445.8 1001.0 445.9 C1002.5 446.1 1006.8 446.8 1008.2 446.9 C1009.7 447.0 1014.0 446.9 1015.5 446.9 C1016.9 446.9 1021.2 446.9 1022.7 446.9 C1024.1 446.9 1028.4 446.9 1029.9 446.9 C1031.3 446.9 1035.7 446.9 1037.1 446.9 C1038.5 446.9 1042.9 446.9 1044.3 446.9 C1045.8 446.9 1050.1 446.9 1051.5 446.9 C1053.0 446.9 1057.3 446.9 1058.7 446.9 C1060.2 446.9 1064.5 446.9 1066.0 446.9 C1067.4 446.9 1071.7 447.0 1073.2 446.9 C1074.6 446.8 1078.9 445.9 1080.4 445.9 C1081.8 445.9 1086.1 446.8 1087.6 446.9 C1089.0 447.0 1093.4 446.9 1094.8 446.9 C1096.2 446.9 1100.6 447.8 1102.0 446.9 C1103.5 445.6 1107.8 434.7 1109.2 434.4 C1110.7 434.1 1115.0 443.3 1116.4 443.9 C1117.9 444.5 1122.2 439.9 1123.7 440.2 C1125.1 440.5 1129.4 446.2 1130.9 446.9 C1132.3 447.6 1136.6 446.9 1138.1 446.9 C1139.5 446.9 1143.8 447.0 1145.3 446.9 C1146.7 446.8 1151.8 446.0 1152.5 445.9" fill="none" stroke="#3a76a8" stroke-width="2.1" stroke-linejoin="round"/>
</svg>
<div class="abs" style="left:454px;top:489px;width:504px;height:34px;border:2px solid #456f91;border-radius:3px;box-sizing:border-box;background:#fff;"></div>
<div class="t" style="left:633.6px;top:527.74px;font-size:12px;color:#333;font-weight:normal;">VPN Throughput Threshold</div>
<div class="t" style="left:238px;top:556.87px;font-size:12.2px;color:#777;font-weight:normal;transform:scaleX(0.9);transform-origin:0 0;">IPSEC INTERFACE OVERVIEW</div>
<div class="t" style="left:962.5px;top:601.84px;font-size:12px;color:#333;font-weight:normal;">Filter</div>
<div class="abs" style="left:994px;top:594px;width:174px;height:30px;border:1px solid #ccc;box-sizing:border-box;background:#fff;"></div>
<div class="abs" style="left:244px;top:635px;width:924px;height:307px;border:1px solid #d8dadb;box-sizing:border-box;background:#fff;"></div>
<div class="abs" style="left:245px;top:636px;width:922px;height:33px;background:#f3f6f7;"></div>
<div class="abs" style="left:245px;top:669px;width:922px;height:1px;background:#d8dadb;"></div>
<div class="abs" style="left:245px;top:703px;width:922px;height:1px;background:#d8dadb;"></div>
<div class="abs" style="left:245px;top:704px;width:922px;height:33px;background:#f3f6f7;"></div>
<div class="abs" style="left:245px;top:737px;width:922px;height:1px;background:#d8dadb;"></div>
<div class="abs" style="left:245px;top:771px;width:922px;height:1px;background:#d8dadb;"></div>
<div class="abs" style="left:245px;top:772px;width:922px;height:33px;background:#f3f6f7;"></div>
<div class="abs" style="left:245px;top:805px;width:922px;height:1px;background:#d8dadb;"></div>
<div class="abs" style="left:245px;top:839px;width:922px;height:1px;background:#d8dadb;"></div>
<div class="abs" style="left:245px;top:840px;width:922px;height:33px;background:#f3f6f7;"></div>
<div class="abs" style="left:245px;top:873px;width:922px;height:1px;background:#d8dadb;"></div>
<div class="abs" style="left:245px;top:907px;width:922px;height:1px;background:#d8dadb;"></div>
<div class="abs" style="left:245px;top:908px;width:922px;height:33px;background:#f3f6f7;"></div>
<div class="abs" style="left:361px;top:669px;width:1px;height:272px;background:#d8dadb;"></div>
<div class="abs" style="left:512px;top:669px;width:1px;height:272px;background:#d8dadb;"></div>
<div class="abs" style="left:652px;top:669px;width:1px;height:272px;background:#d8dadb;"></div>
<div class="abs" style="left:808px;top:669px;width:1px;height:272px;background:#d8dadb;"></div>
<div class="abs" style="left:970px;top:669px;width:1px;height:272px;background:#d8dadb;"></div>
<div class="t" style="left:255.6px;top:645.74px;font-size:12px;color:#262626;font-weight:bold;">Established</div>
<div class="t" style="left:371.4px;top:645.74px;font-size:12px;color:#262626;font-weight:bold;">Interface Name</div>
<div class="t" style="left:521.9px;top:645.74px;font-size:12px;color:#262626;font-weight:bold;">Active IKE SAs</div>
<div class="t" style="left:662.6px;top:645.74px;font-size:12px;color:#262626;font-weight:bold;">Active IPsec SAs</div>
<div class="t" style="left:818px;top:645.74px;font-size:12px;color:#262626;font-weight:bold;">ESP Packets Sent</div>
<div class="t" style="left:980.3px;top:645.74px;font-size:12px;color:#262626;font-weight:bold;">ESP Packets Received</div>
<div class="abs" style="left:293px;top:679px;width:16px;height:16px;background:#4279a5;"></div>
<div class="t" style="left:510.5px;top:680.69px;font-size:11px;color:#333;font-weight:normal;width:140px;text-align:center;">1</div>
<div class="t" style="left:650.5px;top:680.69px;font-size:11px;color:#333;font-weight:normal;width:156px;text-align:center;">1</div>
<div class="t" style="left:806.5px;top:680.69px;font-size:11px;color:#333;font-weight:normal;width:162px;text-align:center;">1201454</div>
<div class="t" style="left:968.5px;top:680.69px;font-size:11px;color:#333;font-weight:normal;width:197px;text-align:center;">973803</div>
<div class="t" style="left:391.9px;top:680.69px;font-size:11px;color:#5b84a8;font-weight:normal;">IPSec_<span style="display:inline-block;width:37px"></span>_1</div>
<div class="abs" style="left:293px;top:713px;width:16px;height:16px;background:#4279a5;"></div>
<div class="t" style="left:510.5px;top:714.69px;font-size:11px;color:#333;font-weight:normal;width:140px;text-align:center;">1</div>
<div class="t" style="left:650.5px;top:714.69px;font-size:11px;color:#333;font-weight:normal;width:156px;text-align:center;">1</div>
<div class="t" style="left:806.5px;top:714.69px;font-size:11px;color:#333;font-weight:normal;width:162px;text-align:center;">265570</div>
<div class="t" style="left:968.5px;top:714.69px;font-size:11px;color:#333;font-weight:normal;width:197px;text-align:center;">265554</div>
<div class="t" style="left:391.9px;top:714.69px;font-size:11px;color:#5b84a8;font-weight:normal;">IPSec_<span style="display:inline-block;width:37px"></span>_2</div>
<div class="abs" style="left:293px;top:747px;width:16px;height:16px;background:#4279a5;"></div>
<div class="t" style="left:510.5px;top:748.69px;font-size:11px;color:#333;font-weight:normal;width:140px;text-align:center;">1</div>
<div class="t" style="left:650.5px;top:748.69px;font-size:11px;color:#333;font-weight:normal;width:156px;text-align:center;">1</div>
<div class="t" style="left:806.5px;top:748.69px;font-size:11px;color:#333;font-weight:normal;width:162px;text-align:center;">264705</div>
<div class="t" style="left:968.5px;top:748.69px;font-size:11px;color:#333;font-weight:normal;width:197px;text-align:center;">263948</div>
<div class="t" style="left:391.9px;top:748.69px;font-size:11px;color:#5b84a8;font-weight:normal;">IPSec_<span style="display:inline-block;width:37px"></span>_3</div>
<div class="abs" style="left:293px;top:781px;width:16px;height:16px;background:#4279a5;"></div>
<div class="t" style="left:510.5px;top:782.69px;font-size:11px;color:#333;font-weight:normal;width:140px;text-align:center;">1</div>
<div class="t" style="left:650.5px;top:782.69px;font-size:11px;color:#333;font-weight:normal;width:156px;text-align:center;">1</div>
<div class="t" style="left:806.5px;top:782.69px;font-size:11px;color:#333;font-weight:normal;width:162px;text-align:center;">264895</div>
<div class="t" style="left:968.5px;top:782.69px;font-size:11px;color:#333;font-weight:normal;width:197px;text-align:center;">264138</div>
<div class="t" style="left:391.9px;top:782.69px;font-size:11px;color:#5b84a8;font-weight:normal;">IPSec_<span style="display:inline-block;width:37px"></span>_4</div>
<div class="abs" style="left:293px;top:815px;width:16px;height:16px;background:#4279a5;"></div>
<div class="t" style="left:510.5px;top:816.69px;font-size:11px;color:#333;font-weight:normal;width:140px;text-align:center;">1</div>
<div class="t" style="left:650.5px;top:816.69px;font-size:11px;color:#333;font-weight:normal;width:156px;text-align:center;">1</div>
<div class="t" style="left:806.5px;top:816.69px;font-size:11px;color:#333;font-weight:normal;width:162px;text-align:center;">266397</div>
<div class="t" style="left:968.5px;top:816.69px;font-size:11px;color:#333;font-weight:normal;width:197px;text-align:center;">266207</div>
<div class="t" style="left:386.6px;top:816.69px;font-size:11px;color:#5b84a8;font-weight:normal;">IPSec_<span style="display:inline-block;width:47.5px"></span>_1</div>
<div class="abs" style="left:293px;top:849px;width:16px;height:16px;background:#4279a5;"></div>
<div class="t" style="left:510.5px;top:850.69px;font-size:11px;color:#333;font-weight:normal;width:140px;text-align:center;">1</div>
<div class="t" style="left:650.5px;top:850.69px;font-size:11px;color:#333;font-weight:normal;width:156px;text-align:center;">1</div>
<div class="t" style="left:806.5px;top:850.69px;font-size:11px;color:#333;font-weight:normal;width:162px;text-align:center;">1102645</div>
<div class="t" style="left:968.5px;top:850.69px;font-size:11px;color:#333;font-weight:normal;width:197px;text-align:center;">330983</div>
<div class="t" style="left:386.6px;top:850.69px;font-size:11px;color:#5b84a8;font-weight:normal;">IPSec_<span style="display:inline-block;width:47.5px"></span>_2</div>
<div class="abs" style="left:293px;top:883px;width:16px;height:16px;background:#4279a5;"></div>
<div class="t" style="left:510.5px;top:884.69px;font-size:11px;color:#333;font-weight:normal;width:140px;text-align:center;">1</div>
<div class="t" style="left:650.5px;top:884.69px;font-size:11px;color:#333;font-weight:normal;width:156px;text-align:center;">1</div>
<div class="t" style="left:806.5px;top:884.69px;font-size:11px;color:#333;font-weight:normal;width:162px;text-align:center;">5396</div>
<div class="t" style="left:968.5px;top:884.69px;font-size:11px;color:#333;font-weight:normal;width:197px;text-align:center;">10186</div>
<div class="t" style="left:386.6px;top:884.69px;font-size:11px;color:#5b84a8;font-weight:normal;">IPSec_<span style="display:inline-block;width:47.5px"></span>_3</div>
<div class="abs" style="left:293px;top:917px;width:16px;height:16px;background:#4279a5;"></div>
<div class="t" style="left:510.5px;top:918.69px;font-size:11px;color:#333;font-weight:normal;width:140px;text-align:center;">1</div>
<div class="t" style="left:650.5px;top:918.69px;font-size:11px;color:#333;font-weight:normal;width:156px;text-align:center;">1</div>
<div class="t" style="left:806.5px;top:918.69px;font-size:11px;color:#333;font-weight:normal;width:162px;text-align:center;">8563</div>
<div class="t" style="left:968.5px;top:918.69px;font-size:11px;color:#333;font-weight:normal;width:197px;text-align:center;">13234</div>
<div class="t" style="left:386.6px;top:918.69px;font-size:11px;color:#5b84a8;font-weight:normal;">IPSec_<span style="display:inline-block;width:47.5px"></span>_4</div>
<div class="abs" style="left:424px;top:676px;width:44px;height:120px;background:#eff2f4;"></div>
<div class="abs" style="left:421px;top:812px;width:49px;height:119px;background:#eff2f4;"></div>
<div class="abs" style="left:427.0px;top:680px;width:38px;height:13px;border-radius:40%;background:#d5dce2;filter:blur(3.2px);"></div>
<div class="abs" style="left:427.0px;top:714px;width:38px;height:13px;border-radius:40%;background:#d5dce2;filter:blur(3.2px);"></div>
<div class="abs" style="left:427.0px;top:748px;width:38px;height:13px;border-radius:40%;background:#d5dce2;filter:blur(3.2px);"></div>
<div class="abs" style="left:427.0px;top:782px;width:38px;height:13px;border-radius:40%;background:#d5dce2;filter:blur(3.2px);"></div>
<div class="abs" style="left:424.5px;top:816px;width:42px;height:13px;border-radius:40%;background:#d5dce2;filter:blur(3.2px);"></div>
<div class="abs" style="left:424.5px;top:850px;width:42px;height:13px;border-radius:40%;background:#d5dce2;filter:blur(3.2px);"></div>
<div class="abs" style="left:424.5px;top:884px;width:42px;height:13px;border-radius:40%;background:#d5dce2;filter:blur(3.2px);"></div>
<div class="abs" style="left:424.5px;top:918px;width:42px;height:13px;border-radius:40%;background:#d5dce2;filter:blur(3.2px);"></div>
<div class="t" style="left:408px;top:698.10px;font-size:14.3px;color:#e01818;font-weight:normal;">Office A</div>
<div class="t" style="left:415.5px;top:834.20px;font-size:14.3px;color:#e01818;font-weight:normal;">Office B</div>
</body></html>
